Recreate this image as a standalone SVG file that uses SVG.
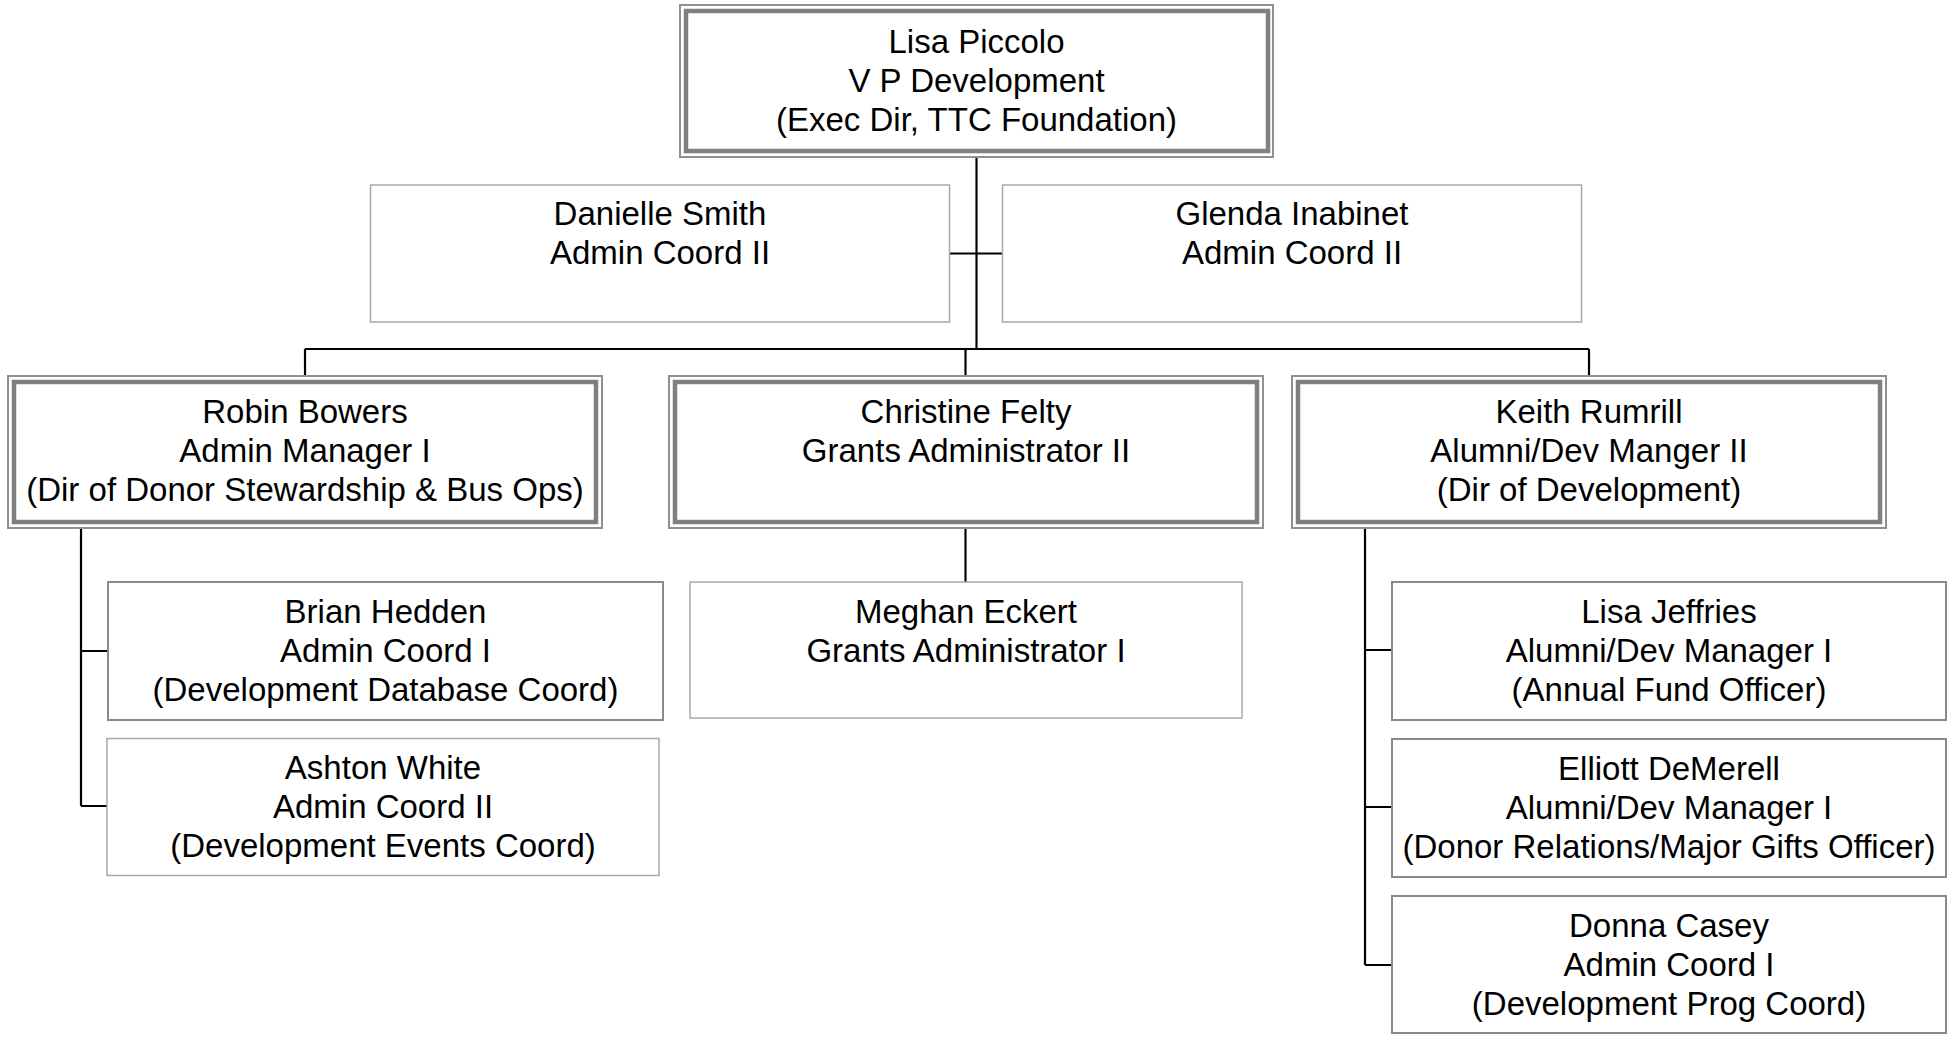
<svg xmlns="http://www.w3.org/2000/svg" width="1949" height="1037" viewBox="0 0 1949 1037">
<style>
.bg{fill:#fff}
.outer{fill:#fff;stroke:#909090;stroke-width:2}
.inner{fill:none;stroke:#808080;stroke-width:4.5}
.box{fill:#fff;stroke:#8a8a8a;stroke-width:2}
.lbox{fill:#fff;stroke:#a8a8a8;stroke-width:1.5}
.t{font-family:"Liberation Sans",Arial,sans-serif;font-size:33px;fill:#000;text-anchor:middle}
.c{fill:none;stroke:#000;stroke-width:2.2}
</style>
<rect class="bg" x="0" y="0" width="1949" height="1037"/>
<g id="connectors">
<path class="c" d="M976.5 157 V349"/>
<path class="c" d="M950 253.5 H1002"/>
<path class="c" d="M305 349 H1589"/>
<path class="c" d="M305 349 V376 M965.5 349 V376 M1589 349 V376"/>
<path class="c" d="M965.5 528 V582"/>
<path class="c" d="M81 528 V806 M81 651 H108 M81 806 H107"/>
<path class="c" d="M1365 528 V965 M1365 650 H1392 M1365 807 H1392 M1365 965 H1392"/>
</g>
<g id="lisa-piccolo">
<rect class="outer" x="680" y="5" width="593" height="152"/>
<rect class="inner" x="686" y="11" width="582" height="140"/>
<text class="t" x="976.5" y="53">Lisa Piccolo</text>
<text class="t" x="976.5" y="92">V P Development</text>
<text class="t" x="976.5" y="131">(Exec Dir, TTC Foundation)</text>
</g>
<g id="danielle-smith">
<rect class="lbox" x="370.5" y="185" width="579" height="137"/>
<text class="t" x="660" y="225">Danielle Smith</text>
<text class="t" x="660" y="264">Admin Coord II</text>
</g>
<g id="glenda-inabinet">
<rect class="lbox" x="1002.5" y="185" width="579" height="137"/>
<text class="t" x="1292" y="225">Glenda Inabinet</text>
<text class="t" x="1292" y="264">Admin Coord II</text>
</g>
<g id="robin-bowers">
<rect class="outer" x="8" y="376" width="594" height="152"/>
<rect class="inner" x="14" y="382" width="582" height="140"/>
<text class="t" x="305" y="423">Robin Bowers</text>
<text class="t" x="305" y="462">Admin Manager I</text>
<text class="t" x="305" y="501">(Dir of Donor Stewardship &amp; Bus Ops)</text>
</g>
<g id="christine-felty">
<rect class="outer" x="669" y="376" width="594" height="152"/>
<rect class="inner" x="675" y="382" width="582" height="140"/>
<text class="t" x="966" y="423">Christine Felty</text>
<text class="t" x="966" y="462">Grants Administrator II</text>
</g>
<g id="keith-rumrill">
<rect class="outer" x="1292" y="376" width="594" height="152"/>
<rect class="inner" x="1298" y="382" width="582" height="140"/>
<text class="t" x="1589" y="423">Keith Rumrill</text>
<text class="t" x="1589" y="462">Alumni/Dev Manger II</text>
<text class="t" x="1589" y="501">(Dir of Development)</text>
</g>
<g id="brian-hedden">
<rect class="box" x="108" y="582" width="555" height="138"/>
<text class="t" x="385.5" y="623">Brian Hedden</text>
<text class="t" x="385.5" y="662">Admin Coord I</text>
<text class="t" x="385.5" y="701">(Development Database Coord)</text>
</g>
<g id="ashton-white">
<rect class="lbox" x="107" y="738.5" width="552" height="137"/>
<text class="t" x="383" y="779">Ashton White</text>
<text class="t" x="383" y="818">Admin Coord II</text>
<text class="t" x="383" y="857">(Development Events Coord)</text>
</g>
<g id="meghan-eckert">
<rect class="lbox" x="690" y="582" width="552" height="136"/>
<text class="t" x="966" y="623">Meghan Eckert</text>
<text class="t" x="966" y="662">Grants Administrator I</text>
</g>
<g id="lisa-jeffries">
<rect class="box" x="1392" y="582" width="554" height="138"/>
<text class="t" x="1669" y="623">Lisa Jeffries</text>
<text class="t" x="1669" y="662">Alumni/Dev Manager I</text>
<text class="t" x="1669" y="701">(Annual Fund Officer)</text>
</g>
<g id="elliott-demerell">
<rect class="box" x="1392" y="739" width="554" height="138"/>
<text class="t" x="1669" y="780">Elliott DeMerell</text>
<text class="t" x="1669" y="819">Alumni/Dev Manager I</text>
<text class="t" x="1669" y="858">(Donor Relations/Major Gifts Officer)</text>
</g>
<g id="donna-casey">
<rect class="box" x="1392" y="896" width="554" height="137"/>
<text class="t" x="1669" y="937">Donna Casey</text>
<text class="t" x="1669" y="976">Admin Coord I</text>
<text class="t" x="1669" y="1015">(Development Prog Coord)</text>
</g>
</svg>
